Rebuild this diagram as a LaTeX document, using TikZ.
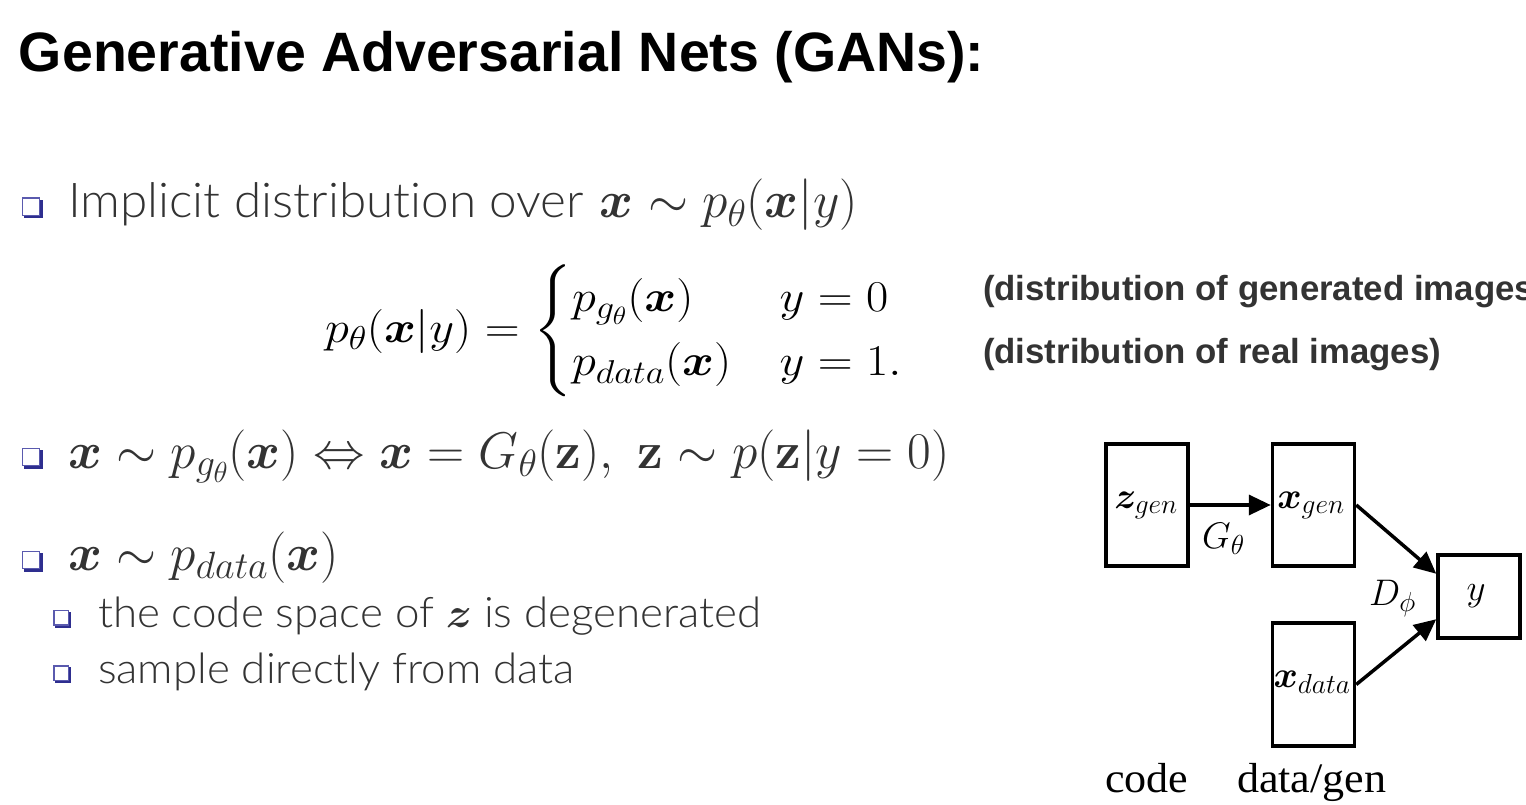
\RequirePackage{fix-cm}
\documentclass[tikz,border=0pt]{standalone}
\usepackage{graphicx}
\usepackage{amsmath,amssymb,bm}
\usepackage[no-math]{fontspec}
\newfontfamily\titlefont{Liberation Sans}
\newfontfamily\lightfont{Lato}[UprightFont={* Light}, Ligatures=NoCommon]
\newfontfamily\timesfont{Liberation Serif}
\DeclareMathSizes{44}{44}{33}{25}
\DeclareMathSizes{37}{37}{27.5}{21}
\DeclareMathSizes{51.5}{51.5}{38}{29}
\DeclareMathSizes{48}{51.5}{38}{29}
\usetikzlibrary{arrows.meta}
\newcommand\sx[2]{\scalebox{#1}[1]{#2}}
\definecolor{txtgray}{HTML}{333333}
\definecolor{bulfront}{HTML}{5A5AAE}
\definecolor{bulshadow}{HTML}{2E2E8F}
\tikzset{
  lbl/.style={anchor=base west, inner sep=0pt, outer sep=0pt},
  bigtxt/.style={lbl, text=txtgray, font=\lightfont\fontsize{48}{56}\selectfont},
  subtxt/.style={lbl, text=txtgray, font=\lightfont\fontsize{42}{50}\selectfont},
  bulmath/.style={lbl, text=txtgray, font=\fontsize{51.5}{58}\selectfont},
  note/.style={lbl, text=txtgray, font=\titlefont\bfseries\fontsize{34.8}{40}\selectfont},
  box/.style={draw, line width=3.5pt, inner sep=0pt, minimum width=82pt},
  dlab/.style={inner sep=0pt, font=\fontsize{37}{42}\selectfont},
  arr/.style={line width=3.5pt, -{Triangle[length=22pt,width=20pt]}},
  bigbullet/.pic={
    \fill[bulshadow] (2.5,2.5) rectangle (21,21);
    \filldraw[fill=white, draw=bulfront, line width=1.8pt] (0.9,0.9) rectangle (18,18);
  },
  smallbullet/.pic={
    \fill[bulshadow] (2.2,2.2) rectangle (18,18);
    \filldraw[fill=white, draw=bulfront, line width=1.6pt] (0.8,0.8) rectangle (15.5,15.5);
  }
}
\begin{document}
\begin{tikzpicture}[x=1pt,y=-1pt]
\useasboundingbox[fill=white] (0,0) rectangle (1526,805);

% title
\node[lbl, font=\titlefont\bfseries\fontsize{55.5}{60}\selectfont] (title) at (19,72) {Generative Adversarial Nets (GANs):};

% bullets
\pic at (21.5,197.5) {bigbullet};
\pic at (21.5,447.5) {bigbullet};
\pic at (21.5,550.5) {bigbullet};
\pic at (53,609.5) {smallbullet};
\pic at (53,665) {smallbullet};

\node[bigtxt] (b1) at (68,218) {\sx{1.03}{Implicit distribution over}\hspace{16pt}$\bm{x}\sim p_\theta(\bm{x}|y)$};

\node[bulmath] (b2) at (68,468) {$\bm{x}\sim p_{g_\theta}(\bm{x})\Leftrightarrow \bm{x}=G_\theta(\mathbf{z}),\ \mathbf{z}\sim p(\mathbf{z}|y=0)$};

\node[bulmath] (b3) at (68,570) {$\bm{x}\sim p_{data}(\bm{x})$};

\node[subtxt] (s1) at (98,627) {\sx{1.045}{the code space of $\bm{z}$ is degenerated}};
\node[subtxt] (s2) at (98,683) {\sx{1.045}{sample directly from data}};

% formula
\node[lbl, font=\fontsize{44}{53}\selectfont] (eq) at (325,342)
  {\sx{1.1}{$p_\theta(\bm{x}|y) = \begin{cases} p_{g_\theta}(\bm{x}) & y = 0\\ p_{data}(\bm{x}) & y = 1.\end{cases}$}};

\node[note] (n1) at (983,300) {(distribution of generated images)};
\node[note] (n2) at (983,363) {(distribution of real images)};

% diagram
\node[box, minimum height=122pt] (zgen) at (1147,505) {};
\node[box, minimum height=122pt] (xgen) at (1313.5,505) {};
\node[box, minimum height=123pt] (xdata) at (1313.5,684.5) {};
\node[box, minimum height=83pt] (yb) at (1479,596.5) {};

\node[dlab, anchor=base] (zl) at (1146,508) {$\bm{z}_{gen}$};
\node[dlab, anchor=base] (xl) at (1311,508) {$\bm{x}_{gen}$};
\node[dlab, anchor=base] (dl) at (1312,687) {$\bm{x}_{data}$};
\node[dlab] (yl) at (1476,596) {$y$};

\draw[arr] (zgen) -- (xgen);
\draw[arr] (xgen.east) -- (yb.152);
\draw[arr] (xdata.east) -- (yb.208);

\node[dlab, anchor=base west] (gl) at (1202,548) {$G_\theta$};
\node[dlab, anchor=base west] (dphi) at (1369,605) {$D_\phi$};

\node[lbl, font=\timesfont\fontsize{42}{48}\selectfont] (code) at (1105,792) {\sx{1.05}{code}};
\node[lbl, font=\timesfont\fontsize{42}{48}\selectfont] (dg) at (1237,792) {\sx{1.05}{data/gen}};
\end{tikzpicture}
\end{document}
